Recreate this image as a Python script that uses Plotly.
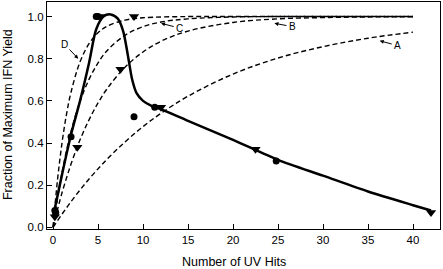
import plotly.graph_objects as go

# Data
circ_x = [0.2, 0.3, 2.0, 4.8, 5.0, 9.0, 11.3, 24.8]
circ_y = [0.08, 0.07, 0.43, 1.0, 1.0, 0.525, 0.57, 0.315]
tri_x = [0.2, 2.7, 5.3, 7.5, 9.0, 12.0, 22.5, 42.0]
tri_y = [0.05, 0.38, 1.0, 0.75, 1.0, 0.57, 0.37, 0.07]

fit_x = [0, 1, 2, 3, 4, 4.8, 5.6, 6.4, 7.2, 7.8, 8.3, 8.8, 9.3, 10.0, 11.0, 12.0, 15, 20, 25, 30, 35, 40, 42]
fit_y = [0.05, 0.25, 0.44, 0.60, 0.78, 0.94, 1.0, 1.01, 0.99, 0.93, 0.82, 0.70, 0.635, 0.6, 0.575, 0.56, 0.505, 0.415, 0.32, 0.245, 0.17, 0.105, 0.08]

a_x = [0, 2, 4, 6, 8, 10, 12, 15, 20, 25, 30, 35, 40]
a_y = [0, 0.122, 0.229, 0.323, 0.405, 0.478, 0.541, 0.622, 0.727, 0.803, 0.857, 0.897, 0.926]
b_x = [0, 1, 2, 3, 4, 5, 6, 8, 10, 12, 15, 20, 25, 30, 35, 40]
b_y = [0, 0.164, 0.30, 0.415, 0.51, 0.59, 0.657, 0.76, 0.832, 0.883, 0.931, 0.972, 0.989, 0.995, 0.998, 0.999]
c_x = [0, 1, 2, 3, 4, 5, 6, 8, 10, 12, 15, 20, 25, 30, 40]
c_y = [0, 0.26, 0.455, 0.597, 0.702, 0.78, 0.838, 0.911, 0.952, 0.974, 0.989, 0.998, 1.0, 1.0, 1.0]
d_x = [0, 0.5, 1, 1.5, 2, 3, 4, 5, 6, 8, 10, 15, 20, 30, 40]
d_y = [0, 0.226, 0.401, 0.537, 0.641, 0.785, 0.871, 0.923, 0.954, 0.983, 0.994, 1.0, 1.0, 1.0, 1.0]

labels = ["A", "B", "C", "D"]
label_x = [38.3, 26.6, 14.1, 1.3]
label_y = [0.862, 0.952, 0.945, 0.868]
head_x = [36.3, 24.6, 12.0, 2.8]
head_y = [0.885, 0.968, 0.968, 0.80]

x_title = "Number of UV Hits"
y_title = "Fraction of Maximum IFN Yield"

fig = go.Figure()
for xs, ys in [(a_x, a_y), (b_x, b_y), (c_x, c_y), (d_x, d_y)]:
    fig.add_trace(go.Scatter(x=xs, y=ys, mode="lines",
                             line=dict(color="black", width=1.4, dash="5px,3px", shape="spline"),
                             showlegend=False))
fig.add_trace(go.Scatter(x=fit_x, y=fit_y, mode="lines",
                         line=dict(color="black", width=2.5, shape="spline", smoothing=0.8),
                         showlegend=False))
fig.add_trace(go.Scatter(x=circ_x, y=circ_y, mode="markers",
                         marker=dict(symbol="circle", size=7, color="black"), showlegend=False))
fig.add_trace(go.Scatter(x=tri_x, y=tri_y, mode="markers",
                         marker=dict(symbol="triangle-down", size=9, color="black"), showlegend=False))

for t, lx, ly, hx, hy in zip(labels, label_x, label_y, head_x, head_y):
    fig.add_annotation(x=lx, y=ly, text=t, showarrow=False,
                       font=dict(family="Liberation Sans, Arial", size=10, color="black"))
    fig.add_annotation(x=hx, y=hy, ax=(lx + (hx - lx) * 0.25), ay=(ly + (hy - ly) * 0.25),
                       axref="x", ayref="y", text="", showarrow=True,
                       arrowhead=2, arrowsize=0.8, arrowwidth=1.0, arrowcolor="black")

# axis titles placed as annotations
fig.add_annotation(xref="paper", yref="paper", x=0.476, y=-0.145, yanchor="middle",
                   text=x_title, showarrow=False,
                   font=dict(family="Liberation Sans, Arial", size=12.5, color="black"))
fig.add_annotation(xref="paper", yref="paper", x=-0.1005, y=0.504, xanchor="center",
                   text=y_title, textangle=-90, showarrow=False,
                   font=dict(family="Liberation Sans, Arial", size=12.5, color="black"))

font = dict(family="Liberation Sans, Arial", size=11.5, color="black")
fig.update_layout(
    width=443, height=269,
    margin=dict(l=47, r=3, t=2, b=40, autoexpand=False),
    paper_bgcolor="white", plot_bgcolor="white",
    font=font,
    xaxis=dict(range=[-0.67, 43.0], tickvals=[0, 5, 10, 15, 20, 25, 30, 35, 40],
               ticks="inside", ticklen=5, tickcolor="black", showgrid=False, zeroline=False,
               showline=True, linecolor="black", linewidth=1.2, mirror=True, automargin=False),
    yaxis=dict(range=[-0.008, 1.069], tickvals=[0, 0.2, 0.4, 0.6, 0.8, 1.0],
               tickformat=".1f", ticks="inside", ticklen=5, tickcolor="black",
               showgrid=False, zeroline=False, automargin=False,
               showline=True, linecolor="black", linewidth=1.2, mirror=True),
)
fig.write_html("out.html", config={"displayModeBar": False},
               post_script="document.body.style.margin='0';document.body.style.overflow='hidden';")
